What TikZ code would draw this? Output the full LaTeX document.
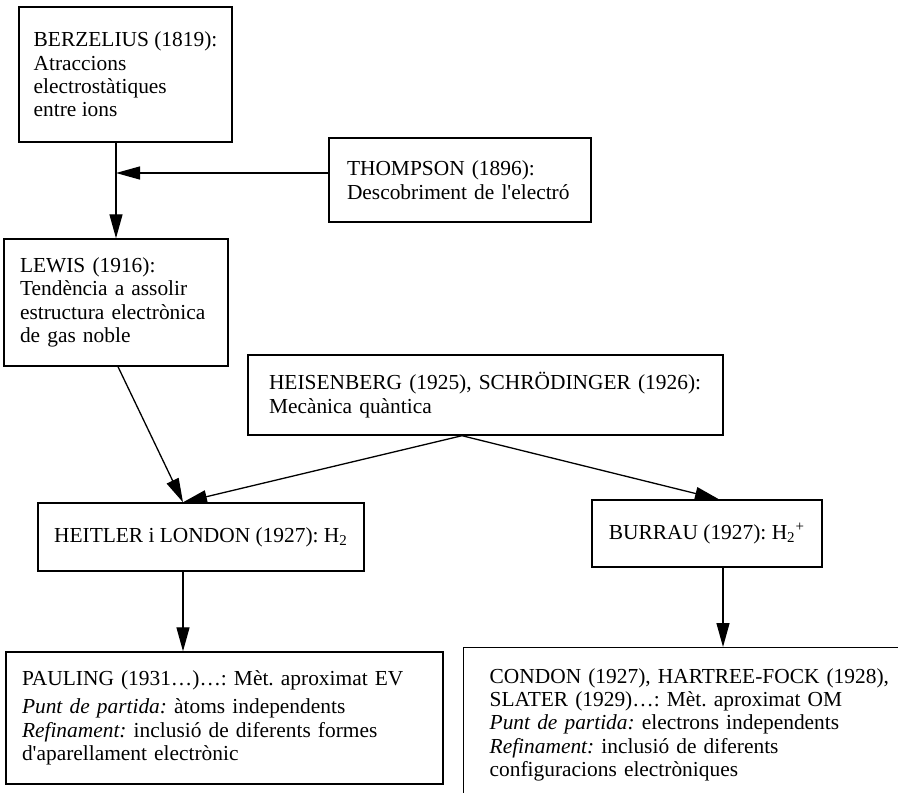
\documentclass[tikz,border=0pt]{standalone}
\usepackage{fontspec}
\setmainfont{Liberation Serif}
\usetikzlibrary{arrows.meta}
\frenchspacing
\tikzset{
    base/.style={
        draw,
        line width=0.7pt,
        font=\fontsize{10.7}{11.7}\selectfont,
        inner sep=0pt,
        align=left
    },
    arrow/.style={-{Triangle[length=12pt, width=6.5pt]}, line width=0.65pt}
}
\begin{document}
\begin{tikzpicture}[x=0.5pt, y=-0.5pt]
    \useasboundingbox (0,0) rectangle (898,792);
    \clip (0,0) rectangle (898,792);

    % Nodes
    \node[base, minimum width=106.5pt, minimum height=67.5pt] (berz) at (125.5,74.5)
        {BERZELIUS (1819):\\ Atraccions\\ electrostàtiques\\ entre ions};
    \node[base, minimum width=131pt, minimum height=42pt, text width=113pt] (thomp) at (460,180)
        {THOMPSON (1896):\\ Descobriment de l\textquotesingle electró};
    \node[base, minimum width=112pt, minimum height=63.5pt, text width=96pt] (lewis) at (116,302.5)
        {LEWIS (1916):\\ Tendència a assolir\\ estructura electrònica\\ de gas noble};
    \node[base, minimum width=237.5pt, minimum height=40pt, text width=216.5pt] (heis) at (485.5,395)
        {HEISENBERG (1925), SCHRÖDINGER (1926):\\ Mecànica quàntica};
    \node[base, minimum width=163pt, minimum height=34pt] (heit) at (201,537)
        {HEITLER i LONDON (1927): H\textsubscript{2}};
    \node[base, minimum width=115pt, minimum height=33.5pt] (burr) at (707,533.5)
        {BURRAU (1927): H\textsubscript{2}\textsuperscript{+}};
    \node[base, minimum width=218.5pt, minimum height=66pt, text width=202.5pt] (paul) at (224.5,718)
        {PAULING (1931\ldots)\ldots: Mèt. aproximat EV\\[2.5pt]
         \textit{Punt de partida:} àtoms independents\\
         \textit{Refinament:} inclusió de diferents formes\\
         d\textquotesingle aparellament electrònic};
    \node[base, anchor=north west, minimum width=236pt, minimum height=77pt, text width=210pt] (cond) at (463,647)
        {CONDON (1927), HARTREE-FOCK (1928),\\
         SLATER (1929)\ldots: Mèt. aproximat OM\\
         \textit{Punt de partida:} electrons independents\\
         \textit{Refinament:} inclusió de diferents\\
         configuracions electròniques};

    % Joints
    \coordinate (join) at (lewis.north |- thomp.west);
    \coordinate (heisout) at ([xshift=-11.75pt]heis.south);
    \coordinate (heitin) at ([xshift=-9pt]heit.north);
    \coordinate (burrin) at ([xshift=6pt]burr.north);
    \coordinate (burrout) at ([xshift=8pt]burr.south);

    % Arrows
    \draw[arrow] (lewis.north |- berz.south) -- (lewis.north);
    \draw[arrow] ([yshift=3.5pt]thomp.west) -- ([yshift=3.5pt]join);
    \draw[arrow] ([xshift=1pt]lewis.south) -- (heitin);
    \draw[arrow] (heisout) -- (heitin);
    \draw[arrow] (heisout) -- (burrin);
    \draw[arrow] (heitin |- heit.south) -- (heitin |- paul.north);
    \draw[arrow] (burrout) -- (burrout |- cond.north);
\end{tikzpicture}
\end{document}
